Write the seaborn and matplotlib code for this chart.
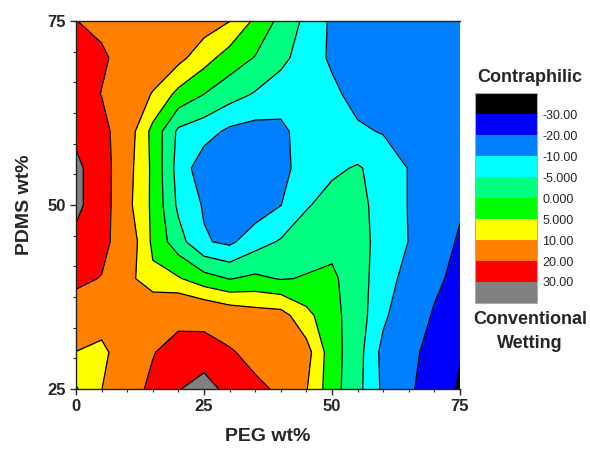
import numpy as np
import matplotlib
matplotlib.use("Agg")
import matplotlib.pyplot as plt
import seaborn as sns
from matplotlib.ticker import MultipleLocator

sns.set_style("ticks")
plt.rcParams['font.family'] = ['Liberation Sans', 'DejaVu Sans']
plt.rcParams['contour.negative_linestyle'] = 'solid'

# ---- data ----
peg = [0, 5, 10, 15, 20, 25, 30, 35, 40, 45, 50, 55, 60, 65, 70, 75]
pdms = [25, 30, 35, 40, 45, 50, 55, 60, 65, 70, 75]

z_pdms25 = [4.5, 9.9, 16, 22, 29.5, 34, 27, 22, 18.5, 10.3, 2.0, -3.5, -11, -18.5, -25, -31]
z_pdms30 = [9.9, 8, 15, 19.5, 24, 25, 21, 17, 14, 12, 2, -3, -11.5, -17, -24, -29.5]
z_pdms35 = [15, 14, 16, 17, 17, 16, 14, 12.5, 12, 6.5, 1.5, -2.5, -9, -14, -21, -26]
z_pdms40 = [22, 19.6, 12, 6, 5.5, 2, -0.2, 1, -0.3, 0.3, 1, -3, -7.5, -12, -18, -23]
z_pdms45 = [28, 23, 14, 4, -3, -9.5, -11, -7, -4.5, -2, -1.5, -3, -7, -10.1, -16, -21]
z_pdms50 = [32, 25, 11.5, 4, -6, -10.5, -14, -13, -10.1, -5.5, -3, -3.5, -7, -10.2, -15, -19]
z_pdms55 = [32, 25, 12, 4, -7, -13, -16, -17, -12, -7, -6, -4.5, -7, -10.2, -14, -16]
z_pdms60 = [28, 23.5, 13, 3.5, -6, -8, -11, -12, -11, -8, -8.5, -9.3, -10.3, -13, -14, -15]
z_pdms65 = [24, 19.8, 15, 9.5, 3.5, -0.1, -3, -5.5, -8, -8.5, -9, -11.5, -14, -15, -15, -15]
z_pdms70 = [23, 21, 17.5, 14.5, 11.5, 7.04, 2.7, -0.25, -3.5, -7.7, -10.7, -13, -14, -15, -15, -15]
z_pdms75 = [20.1, 18.5, 17, 15.5, 14, 12.5, 10.1, 4.0, -1.45, -6.2, -10.9, -13, -14, -15, -15, -15]

level_bounds = [-45, -30, -20, -10, -5, 0, 5, 10, 20, 30, 45]
level_labels = ["-30.00", "-20.00", "-10.00", "-5.000", "0.000", "5.000", "10.00", "20.00", "30.00"]
band_colors = ["#000000", "#0000FF", "#0080FF", "#00FFFF", "#00FF80",
               "#00FF00", "#FFFF00", "#FF8000", "#FF0000", "#808080"]

Z = np.array([z_pdms25, z_pdms30, z_pdms35, z_pdms40, z_pdms45, z_pdms50,
              z_pdms55, z_pdms60, z_pdms65, z_pdms70, z_pdms75])

# ---- figure ----
W, H = 590, 451
fig = plt.figure(figsize=(W / 100, H / 100), dpi=100)
ax = fig.add_axes([76 / W, 1 - 389 / H, 384 / W, 368 / H])

cf = ax.contourf(peg, pdms, Z, levels=level_bounds, colors=band_colors)
ax.contour(peg, pdms, Z, levels=level_bounds[1:-1], colors="black",
           linewidths=0.9, linestyles="solid")

ax.set_xlim(0, 75)
ax.set_ylim(25, 75)
ax.xaxis.set_major_locator(MultipleLocator(25))
ax.xaxis.set_minor_locator(MultipleLocator(5))
ax.yaxis.set_major_locator(MultipleLocator(25))
ax.yaxis.set_minor_locator(MultipleLocator(25 / 6))
ax.tick_params(which="major", direction="out", length=4.5, width=1, labelsize=12, pad=3)
ax.tick_params(which="minor", direction="out", length=2.5, width=0.8)
for lab in ax.get_xticklabels() + ax.get_yticklabels():
    lab.set_fontweight("bold")
ax.spines["right"].set_visible(False)
for s in ["left", "bottom", "top"]:
    ax.spines[s].set_linewidth(1.0)
    ax.spines[s].set_color("#222222")

ax.set_xlabel("PEG wt%", fontsize=14, fontweight="bold", labelpad=10)
ax.set_ylabel("PDMS wt%", fontsize=14, fontweight="bold", labelpad=10)

# ---- colour bar ----
cax = fig.add_axes([475 / W, 1 - 303 / H, 62 / W, 210 / H])
cb = fig.colorbar(cf, cax=cax, spacing="uniform")
cax.invert_yaxis()
cb.set_ticks(level_bounds[1:-1])
cb.set_ticklabels(level_labels)
cax.tick_params(length=0, labelsize=9, pad=4)
cb.outline.set_edgecolor("#aaaaaa")
cb.outline.set_linewidth(0.8)

fig.text(530 / W, 1 - 78 / H, "Contraphilic", ha="center", va="center",
         fontsize=13, fontweight="bold")
fig.text(530 / W, 1 - 320 / H, "Conventional", ha="center", va="center",
         fontsize=13, fontweight="bold")
fig.text(530 / W, 1 - 344 / H, "Wetting", ha="center", va="center",
         fontsize=13, fontweight="bold")

fig.savefig("out.png", dpi=100)
